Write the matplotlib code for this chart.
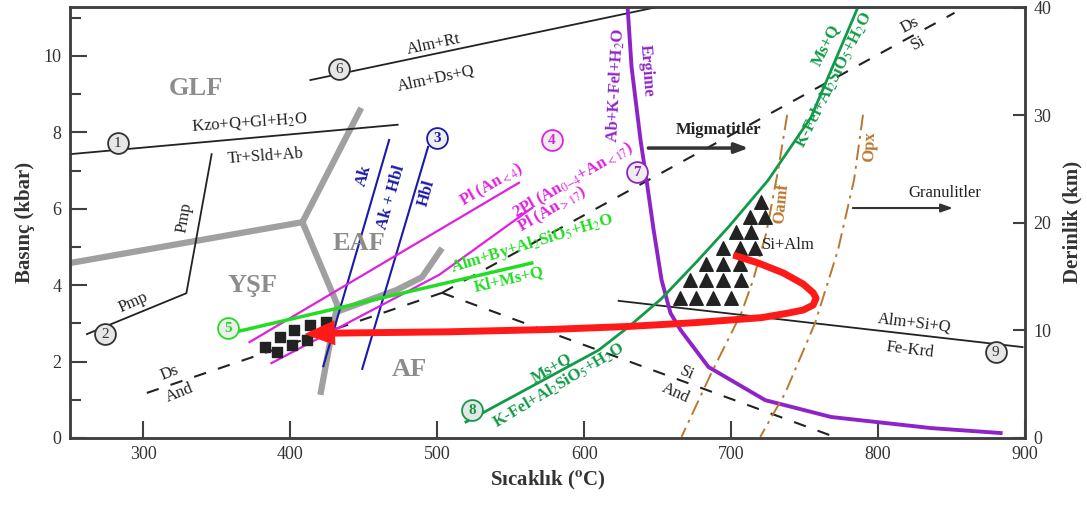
import numpy as np
import matplotlib
matplotlib.use("Agg")
import matplotlib.pyplot as plt

plt.rcParams['font.family'] = ['Liberation Serif', 'DejaVu Serif']
plt.rcParams['mathtext.fontset'] = 'stix'

# ---- data (T in degC, P in kbar) ----
line1_T = [250, 473]
line1_P = [7.43, 8.20]
pmp_T = [261.5, 329.2, 346.4]
pmp_P = [2.72, 3.79, 7.43]
line6_T = [413.6, 651.9]
line6_P = [9.37, 11.30]
line9_T = [623.4, 898.3]
line9_P = [3.59, 2.38]

# facies boundaries (grey)
gray_a_T = [250, 408.2]
gray_a_P = [4.58, 5.65]
gray_b_T = [408.2, 448.2]
gray_b_P = [5.65, 8.64]
gray_c_T = [408.2, 432.0, 428.5, 420.4]
gray_c_P = [5.65, 3.48, 2.82, 1.13]
gray_d_T = [431.3, 472.0, 489.6, 503.2]
gray_d_P = [3.30, 3.87, 4.21, 4.97]

# amphibole reactions (blue)
ak_T = [467.2, 422.4]
ak_P = [7.80, 1.88]
hbl_T = [493.7, 448.9]
hbl_P = [7.62, 1.81]

# plagioclase (magenta)
pl1_T = [372.2, 555.5]
pl1_P = [2.51, 6.68]
pl2_T = [387.1, 501.2, 564.3]
pl2_P = [1.96, 4.27, 6.02]

# reaction 5 (lime)
r5_T = [365.4, 564.3]
r5_P = [2.80, 4.58]

# Al2SiO5 (dashed)
ds_and_T = [302.3, 503.2]
ds_and_P = [1.18, 3.80]
and_si_T = [503.2, 771.0]
and_si_P = [3.80, 0.02]
ds_si_T = [503.2, 852.0]
ds_si_P = [3.80, 11.13]

# melting (purple)
melt_T = [629.5, 632.2, 638.3, 642.4, 647.2, 652.6, 658.7, 665.5, 684.5, 723.2, 768.0, 835.9, 883.4]
melt_P = [11.28, 9.71, 7.80, 6.75, 5.45, 4.14, 3.27, 2.83, 1.86, 0.99, 0.55, 0.26, 0.13]

# muscovite breakdown (dark green)
ms_T = [519.5, 609.8, 630.2, 652.6, 675.7, 698.1, 725.2, 754.4, 786.3]
ms_P = [0.42, 2.30, 2.91, 3.65, 4.58, 5.52, 6.75, 8.40, 11.28]

# brown dash-dot
oamf_T = [738.1, 732.0, 723.9, 715.0, 706.9, 686.5, 666.2]
oamf_P = [8.46, 7.02, 5.37, 4.14, 3.27, 1.70, 0.03]
opx_T = [789.7, 783.6, 772.7, 757.1, 736.8, 719.8]
opx_P = [8.46, 6.75, 4.92, 3.01, 1.18, 0.03]

# P-T path (red)
path_T = [701.5, 718.5, 735.5, 749.0, 755.8, 757.8, 755.8, 749.0, 738.8, 720.5,
          675.7, 630.2, 575.9, 508.0, 440.0, 422.0]
path_P = [4.79, 4.58, 4.32, 4.03, 3.80, 3.66, 3.48, 3.35, 3.27, 3.15,
          3.02, 2.92, 2.84, 2.78, 2.75, 2.74]
path_tip = (409.5, 2.72)

# symbols
sq_T = [382.4, 392.6, 402.7, 413.6, 424.5, 391.2, 401.4, 411.6]
sq_P = [2.38, 2.64, 2.83, 2.96, 3.04, 2.25, 2.43, 2.57]
tri_T = [665.5, 676.3, 687.9, 700.1,
         672.3, 683.1, 694.7, 706.9,
         683.1, 694.7, 706.2,
         694.7, 706.2, 716.4,
         703.5, 713.7,
         713.0, 723.2,
         720.5]
tri_P = [3.66] * 4 + [4.14] * 4 + [4.55] * 3 + [4.97] * 3 + [5.39] * 2 + [5.79] * 2 + [6.18]

# numbered circles
circ_num = ['1', '2', '3', '4', '5', '6', '7', '8', '9']
circ_T = [282.6, 273.8, 499.8, 578.0, 357.3, 433.3, 635.6, 523.6, 880.0]
circ_P = [7.72, 2.72, 7.85, 7.80, 2.88, 9.66, 6.96, 0.73, 2.25]
circ_edge = ['#333333', '#333333', '#1a1aa8', '#e020e0', '#22dd22', '#333333', '#8e24c8', '#129a48', '#333333']
circ_face = ['#e6e6e6', '#e6e6e6', '#eeeeee', '#eeeeee', '#eeeeee', '#e6e6e6', '#eeeeee', '#e6e6e6', '#e6e6e6']
circ_txt = ['#333333', '#333333', '#1a1aa8', '#e020e0', '#22dd22', '#333333', '#8e24c8', '#129a48', '#333333']

fig = plt.figure(figsize=(10.87, 5.08), dpi=100)
ax = fig.add_axes([0.0644, 0.1378, 0.8786, 0.849])

ax.set_xlim(250, 900)
ax.set_ylim(0, 11.29)

GRAY = '#a0a0a0'
BLUE = '#1a1aa8'
MAG = '#e020e0'
LIME = '#22dd22'
DGREEN = '#129a48'
PURPLE = '#8e24c8'
BROWN = '#b8782e'

# grey facies lines
for tt, pp in [(gray_a_T, gray_a_P), (gray_b_T, gray_b_P), (gray_c_T, gray_c_P), (gray_d_T, gray_d_P)]:
    ax.plot(tt, pp, color=GRAY, lw=4.5, solid_capstyle='butt', solid_joinstyle='round', zorder=2)

# black reactions
ax.plot(line1_T, line1_P, color='#222222', lw=1.3, zorder=3)
ax.plot(pmp_T, pmp_P, color='#222222', lw=1.3, zorder=3)
ax.plot(line6_T, line6_P, color='#222222', lw=1.3, zorder=3)
ax.plot(line9_T, line9_P, color='#222222', lw=1.3, zorder=3)

# dashed Al2SiO5
for tt, pp in [(ds_and_T, ds_and_P), (and_si_T, and_si_P), (ds_si_T, ds_si_P)]:
    ax.plot(tt, pp, color='#222222', lw=1.5, ls=(0, (6, 6)), zorder=3)

ax.plot(ak_T, ak_P, color=BLUE, lw=1.5, zorder=3)
ax.plot(hbl_T, hbl_P, color=BLUE, lw=1.5, zorder=3)
ax.plot(pl1_T, pl1_P, color=MAG, lw=1.6, zorder=3)
ax.plot(pl2_T, pl2_P, color=MAG, lw=1.6, zorder=3)
ax.plot(r5_T, r5_P, color=LIME, lw=2.5, zorder=4)
ax.plot(melt_T, melt_P, color=PURPLE, lw=2.8, zorder=3)
ax.plot(ms_T, ms_P, color=DGREEN, lw=2.0, zorder=3)
ax.plot(oamf_T, oamf_P, color=BROWN, lw=1.4, ls=(0, (8, 3, 1.5, 3)), zorder=3)
ax.plot(opx_T, opx_P, color=BROWN, lw=1.4, ls=(0, (8, 3, 1.5, 3)), zorder=3)

# symbols
ax.scatter(sq_T, sq_P, marker='s', s=62, color='#222222', zorder=5)
ax.scatter(tri_T, tri_P, marker='^', s=95, color='#222222', zorder=5)

# P-T path
ax.plot(path_T, path_P, color='#ff1a1a', lw=5, solid_capstyle='butt',
        solid_joinstyle='round', zorder=6)
ax.annotate('', xy=path_tip, xytext=(path_T[-1], path_P[-1]),
            arrowprops=dict(arrowstyle='-|>,head_length=1.1,head_width=0.45',
                            mutation_scale=20, color='#ff1a1a', lw=0,
                            shrinkA=0, shrinkB=0),
            zorder=7)

# circles
for n, t, p, ec, fc, tc in zip(circ_num, circ_T, circ_P, circ_edge, circ_face, circ_txt):
    ax.plot(t, p, 'o', ms=15, mfc=fc, mec=ec, mew=1.3, zorder=8)
    ax.text(t, p - 0.02, n, ha='center', va='center', fontsize=11, color=tc, zorder=9,
            fontweight='bold' if tc != '#333333' else 'normal')

# facies names
for lab, t, p in [('GLF', 336, 9.16), ('EAF', 446.9, 5.08), ('YŞF', 374.2, 4.0), ('AF', 480.8, 1.78)]:
    ax.text(t, p, lab, color='#8c8c8c', fontsize=19, fontweight='bold', ha='center', va='center')

kw = dict(ha='center', va='center', fontsize=12, color='#222222')
ax.text(372.2, 8.27, r'Kzo+Q+Gl+H$_2$O', rotation=4, **kw)
ax.text(383, 7.36, 'Tr+Sld+Ab', rotation=4, **kw)
ax.text(328, 5.76, 'Pmp', rotation=80, **kw)
ax.text(292.8, 3.56, 'Pmp', rotation=24, **kw)
ax.text(497.8, 10.29, 'Alm+Rt', rotation=12, **kw)
ax.text(499, 9.42, 'Alm+Ds+Q', rotation=12, **kw)
ax.text(317.9, 1.70, 'Ds', rotation=22, **kw)
ax.text(324.7, 1.18, 'And', rotation=22, **kw)
ax.text(669.6, 1.70, 'Si', rotation=-24, **kw)
ax.text(662, 1.18, 'And', rotation=-24, **kw)
ax.text(821.6, 10.81, 'Ds', rotation=28, **kw)
ax.text(827, 10.34, 'Si', rotation=28, **kw)
ax.text(738.8, 5.05, 'Si+Alm', **kw)
ax.text(825, 3.01, 'Alm+Si+Q', rotation=-7, **kw)
ax.text(821.6, 2.30, 'Fe-Krd', rotation=-7, **kw)
ax.text(845.4, 6.41, 'Granulitler', **kw)
ax.text(691.3, 8.06, 'Migmatitler', ha='center', va='center', fontsize=12,
        fontweight='bold', color='#222222')
ax.annotate('', xy=(713.7, 7.59), xytext=(641.7, 7.59),
            arrowprops=dict(arrowstyle='-|>,head_length=0.8,head_width=0.3', color='#333333', lw=2.5))
ax.annotate('', xy=(852.8, 6.02), xytext=(780.9, 6.02),
            arrowprops=dict(arrowstyle='-|>,head_length=0.7,head_width=0.25', color='#333333', lw=1.5))

bkw = dict(ha='center', va='center', fontsize=12, fontweight='bold')
ax.text(450.3, 6.88, 'Ak', rotation=74, color=BLUE, **bkw)
ax.text(468.6, 6.31, 'Ak + Hbl', rotation=74, color=BLUE, **bkw)
ax.text(493, 6.41, 'Hbl', rotation=74, color=BLUE, **bkw)
ax.text(537.2, 6.62, r'Pl (An$_{<4}$)', rotation=30, color=MAG, **bkw)
ax.text(592.8, 6.75, r'2Pl (An$_{0\mathrm{-}4}$+An$_{<17}$)', rotation=30, color=MAG, **bkw)
ax.text(578, 5.97, r'Pl (An$_{>17}$)', rotation=30, color=MAG, **bkw)
ax.text(564.3, 5.10, r'Alm+By+Al$_2$SiO$_5$+H$_2$O', rotation=17, color=LIME, **bkw)
ax.text(548.7, 4.16, 'Kl+Ms+Q', rotation=13, color=LIME, **bkw)
ax.text(577.9, 1.83, 'Ms+Q', rotation=30, color=DGREEN, **bkw)
ax.text(582.6, 1.39, r'K-Fel+Al$_2$SiO$_5$+H$_2$O', rotation=31, color=DGREEN, **bkw)
ax.text(764.6, 10.29, 'Ms+Q', rotation=63, color=DGREEN, **bkw)
ax.text(770, 9.37, r'K-Fel+Al$_2$SiO$_5$+H$_2$O', rotation=63, color=DGREEN, **bkw)
ax.text(621.3, 9.24, r'Ab+K-Fel+H$_2$O', rotation=87, color=PURPLE, **bkw)
ax.text(642.4, 9.63, 'Ergime', rotation=-86, color=PURPLE, **bkw)
ax.text(734, 6.15, 'Oamf', rotation=84, color=BROWN, **bkw)
ax.text(794.5, 7.62, 'Opx', rotation=88, color=BROWN, **bkw)

# axes styling
for s in ax.spines.values():
    s.set_color('#404040')
    s.set_linewidth(1.8)
ax.set_xticks(np.arange(300, 901, 100))
ax.set_yticks(np.arange(0, 11, 2))
ax.set_yticks(np.arange(1, 12, 2), minor=True)
ax.tick_params(axis='both', direction='in', length=12, width=1.5, colors='#404040',
               labelsize=13, labelcolor='#333333', pad=6)
ax.tick_params(axis='y', which='minor', direction='in', length=8, width=1.5, colors='#404040')
ax.tick_params(axis='y', right=False)
ax.tick_params(axis='x', top=False)
ax.set_xlabel(r'Sıcaklık ($^{\mathbf{o}}$C)', fontsize=15, fontweight='bold', color='#333333', labelpad=4)
ax.set_ylabel('Basınç (kbar)', fontsize=15, fontweight='bold', color='#333333', labelpad=6)

ax2 = ax.twinx()
ax2.set_ylim(0, 11.29 * 3.553)
ax2.set_yticks([0, 10, 20, 30, 40])
ax2.tick_params(axis='y', direction='in', length=9, width=1.5, colors='#404040',
                labelsize=13, labelcolor='#333333', pad=6)
for s in ax2.spines.values():
    s.set_color('#404040')
    s.set_linewidth(1.8)
ax2.set_ylabel('Derinlik (km)', fontsize=15, fontweight='bold', color='#333333', labelpad=8)

fig.savefig('out.png', dpi=100)
